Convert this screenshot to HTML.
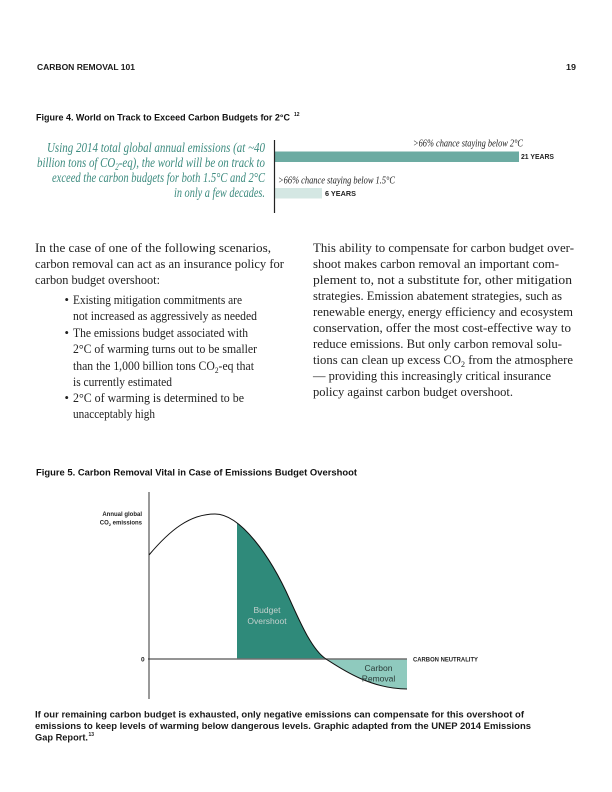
<!DOCTYPE html>
<html>
<head>
<meta charset="utf-8">
<style>
  html,body{margin:0;padding:0;background:#fff;}
  svg{display:block;}
  .sans{font-family:"Liberation Sans","DejaVu Sans",sans-serif;}
  .serif{font-family:"Liberation Serif","DejaVu Serif",serif;}
</style>
</head>
<body>
<svg width="612" height="792" viewBox="0 0 612 792" xmlns="http://www.w3.org/2000/svg">
  <rect x="0" y="0" width="612" height="792" fill="#ffffff"/>

  <!-- Header -->
  <text class="sans" x="37" y="70" font-size="8" font-weight="bold" fill="#1a1a1a" textLength="98" lengthAdjust="spacingAndGlyphs">CARBON REMOVAL 101</text>
  <text class="sans" x="566" y="70" font-size="8" font-weight="bold" fill="#1a1a1a" textLength="10" lengthAdjust="spacingAndGlyphs">19</text>

  <!-- Figure 4 title -->
  <text class="sans" x="36" y="120.5" font-size="9" font-weight="bold" fill="#111" textLength="254" lengthAdjust="spacingAndGlyphs">Figure 4. World on Track to Exceed Carbon Budgets for 2°C</text>
  <text class="sans" x="294" y="116" font-size="5" font-weight="bold" fill="#111">12</text>

  <!-- Figure 4 italic text -->
  <g class="serif" font-style="italic" font-size="14" fill="#3d8b7f">
    <text x="47" y="152" textLength="218" lengthAdjust="spacingAndGlyphs">Using 2014 total global annual emissions (at ~40</text>
    <text x="37" y="167" textLength="228" lengthAdjust="spacingAndGlyphs">billion tons of CO<tspan font-size="9" dy="3">2</tspan><tspan dy="-3">-eq), the world will be on track to</tspan></text>
    <text x="52" y="182" textLength="213" lengthAdjust="spacingAndGlyphs">exceed the carbon budgets for both 1.5°C and 2°C</text>
    <text x="174" y="197" textLength="91" lengthAdjust="spacingAndGlyphs">in only a few decades.</text>
  </g>

  <!-- Figure 4 bars -->
  <rect x="275" y="151.5" width="244" height="10.5" fill="#6caba2"/>
  <rect x="275" y="188" width="47" height="10.5" fill="#d4e7e3"/>
  <line x1="274.5" y1="140" x2="274.5" y2="213" stroke="#222" stroke-width="1.2"/>
  <text class="serif" x="413" y="146.5" font-size="10" font-style="italic" fill="#222" textLength="110" lengthAdjust="spacingAndGlyphs">&gt;66% chance staying below 2°C</text>
  <text class="sans" x="521" y="159" font-size="7" font-weight="bold" fill="#222" textLength="33" lengthAdjust="spacingAndGlyphs">21 YEARS</text>
  <text class="serif" x="278" y="183.5" font-size="10" font-style="italic" fill="#222" textLength="117" lengthAdjust="spacingAndGlyphs">&gt;66% chance staying below 1.5°C</text>
  <text class="sans" x="325" y="196" font-size="7" font-weight="bold" fill="#222" textLength="31" lengthAdjust="spacingAndGlyphs">6 YEARS</text>

  <!-- Left column body -->
  <g class="serif" font-size="12.6" fill="#222">
    <text x="35" y="252" textLength="236" lengthAdjust="spacingAndGlyphs">In the case of one of the following scenarios,</text>
    <text x="35" y="268" textLength="249" lengthAdjust="spacingAndGlyphs">carbon removal can act as an insurance policy for</text>
    <text x="35" y="284" textLength="125" lengthAdjust="spacingAndGlyphs">carbon budget overshoot:</text>

    <text x="64.5" y="304">•</text>
    <text x="73" y="304" textLength="169" lengthAdjust="spacingAndGlyphs">Existing mitigation commitments are</text>
    <text x="73" y="320" textLength="184" lengthAdjust="spacingAndGlyphs">not increased as aggressively as needed</text>
    <text x="64.5" y="337">•</text>
    <text x="73" y="337" textLength="175" lengthAdjust="spacingAndGlyphs">The emissions budget associated with</text>
    <text x="73" y="353" textLength="184" lengthAdjust="spacingAndGlyphs">2°C of warming turns out to be smaller</text>
    <text x="73" y="370" textLength="181" lengthAdjust="spacingAndGlyphs">than the 1,000 billion tons CO<tspan font-size="8" dy="3">2</tspan><tspan dy="-3">-eq that</tspan></text>
    <text x="73" y="386" textLength="99" lengthAdjust="spacingAndGlyphs">is currently estimated</text>
    <text x="64.5" y="402">•</text>
    <text x="73" y="402" textLength="171" lengthAdjust="spacingAndGlyphs">2°C of warming is determined to be</text>
    <text x="73" y="418" textLength="82" lengthAdjust="spacingAndGlyphs">unacceptably high</text>
  </g>

  <!-- Right column body -->
  <g class="serif" font-size="12.6" fill="#222">
    <text x="313" y="252" textLength="261" lengthAdjust="spacingAndGlyphs">This ability to compensate for carbon budget over-</text>
    <text x="313" y="268" textLength="246" lengthAdjust="spacingAndGlyphs">shoot makes carbon removal an important com-</text>
    <text x="313" y="284" textLength="259" lengthAdjust="spacingAndGlyphs">plement to, not a substitute for, other mitigation</text>
    <text x="313" y="300" textLength="249" lengthAdjust="spacingAndGlyphs">strategies. Emission abatement strategies, such as</text>
    <text x="313" y="316" textLength="260" lengthAdjust="spacingAndGlyphs">renewable energy, energy efficiency and ecosystem</text>
    <text x="313" y="332" textLength="258" lengthAdjust="spacingAndGlyphs">conservation, offer the most cost-effective way to</text>
    <text x="313" y="348" textLength="249" lengthAdjust="spacingAndGlyphs">reduce emissions. But only carbon removal solu-</text>
    <text x="313" y="364" textLength="260" lengthAdjust="spacingAndGlyphs">tions can clean up excess CO<tspan font-size="8" dy="3">2</tspan><tspan dy="-3"> from the atmosphere</tspan></text>
    <text x="313" y="380" textLength="238" lengthAdjust="spacingAndGlyphs">— providing this increasingly critical insurance</text>
    <text x="313" y="396" textLength="200" lengthAdjust="spacingAndGlyphs">policy against carbon budget overshoot.</text>
  </g>

  <!-- Figure 5 title -->
  <text class="sans" x="36" y="475.5" font-size="9" font-weight="bold" fill="#111" textLength="321" lengthAdjust="spacingAndGlyphs">Figure 5. Carbon Removal Vital in Case of Emissions Budget Overshoot</text>

  <!-- Figure 5 chart -->
  <defs>
    <clipPath id="overshootClip">
      <rect x="237" y="480" width="100" height="179"/>
    </clipPath>
  </defs>
  <path d="M149,555 C170,530 190,514 215,514 C240,514 270,555 290,600 C300,622 312,650 326,659 L149,659 Z" fill="#2f8a7a" clip-path="url(#overshootClip)"/>
  <path d="M326,659 C340,668 370,689 407,689 L407,659 Z" fill="#8fcabe"/>
  <line x1="148" y1="659" x2="407" y2="659" stroke="#707070" stroke-width="1.6"/>
  <line x1="149" y1="492" x2="149" y2="699" stroke="#333" stroke-width="1"/>
  <path d="M149,555 C170,530 190,514 215,514 C240,514 270,555 290,600 C300,622 312,650 326,659 C340,668 370,689 407,689" fill="none" stroke="#111" stroke-width="1"/>

  <g class="sans" font-weight="bold" fill="#222">
    <text x="142" y="516" font-size="6" text-anchor="end">Annual global</text>
    <text x="142" y="524.5" font-size="6" text-anchor="end">CO<tspan font-size="4" dy="1.5">2</tspan><tspan dy="-1.5"> emissions</tspan></text>
    <text x="141" y="661.5" font-size="6.5">0</text>
    <text x="413" y="661.5" font-size="6.5" textLength="65" lengthAdjust="spacingAndGlyphs">CARBON NEUTRALITY</text>
  </g>
  <g class="sans" font-size="8.5" fill="#c5d1ce" text-anchor="middle">
    <text x="267" y="613">Budget</text>
    <text x="267" y="624">Overshoot</text>
  </g>
  <g class="sans" font-size="8.5" fill="#2a3a37" text-anchor="middle">
    <text x="378.5" y="671">Carbon</text>
    <text x="378.5" y="681.5">Removal</text>
  </g>

  <!-- Caption -->
  <g class="sans" font-size="9" font-weight="bold" fill="#1a1a1a">
    <text x="35" y="717.5" textLength="489" lengthAdjust="spacingAndGlyphs">If our remaining carbon budget is exhausted, only negative emissions can compensate for this overshoot of</text>
    <text x="35" y="729" textLength="496" lengthAdjust="spacingAndGlyphs">emissions to keep levels of warming below dangerous levels. Graphic adapted from the UNEP 2014 Emissions</text>
    <text x="35" y="740.5" textLength="53" lengthAdjust="spacingAndGlyphs">Gap Report.</text>
    <text x="88.5" y="736" font-size="5">13</text>
  </g>
</svg>
</body>
</html>
